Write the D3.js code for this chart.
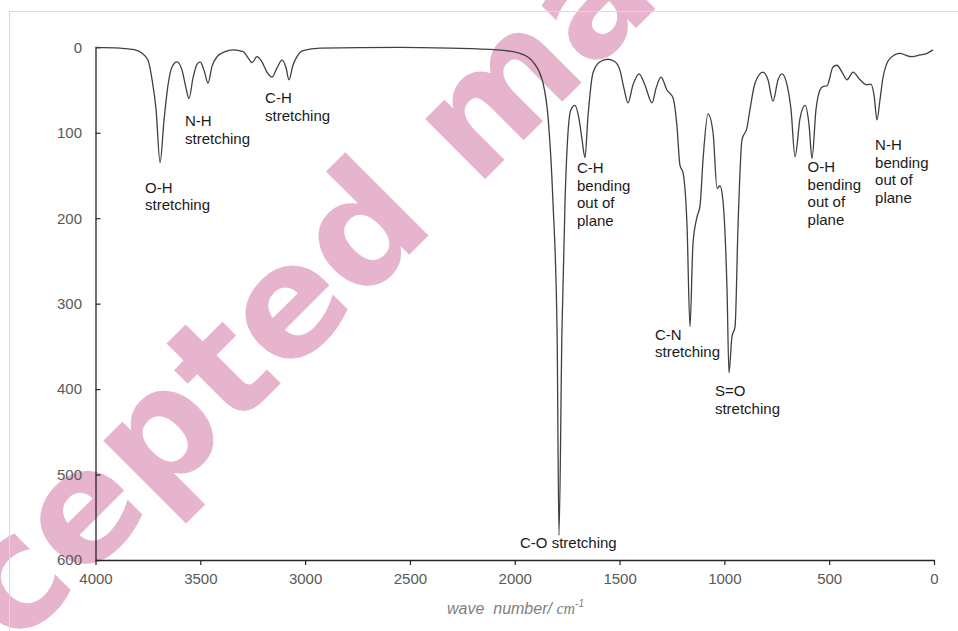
<!DOCTYPE html>
<html>
<head>
<meta charset="utf-8">
<script src="https://cdn.jsdelivr.net/npm/d3@7"></script>
<style>
  html, body { margin: 0; padding: 0; background: #fff; }
  svg { display: block; }
</style>
</head>
<body>
<div id="chart"></div>
<script>
'use strict';

/*** Data */
const waveNumber = [4000,3883,3811,3778,3750,3730,3711,3692,3673,3654,3635,3611,3587,3568,3554,3535,3516,3501,3482,3463,
  3444,3420,3382,3344,3296,3273,3253,3230,3206,3182,3158,3134,3110,3091,3077,3058,3039,3010,2929,2547,
  2309,2085,1975,1913,1865,1841,1818,1798,1789,1775,1760,1746,1732,1713,1694,1679,1665,1651,1627,1593,
  1555,1522,1498,1479,1460,1436,1407,1379,1345,1326,1302,1274,1245,1226,1212,1197,1178,1164,1150,1131,
  1116,1102,1078,1054,1035,1021,1007,987,978,964,949,935,916,892,878,854,816,792,768,744,
  725,701,682,663,639,615,596,582,563,544,530,510,482,463,439,415,386,353,320,301,
  286,272,258,243,210,162,138,105,67,33,5];

const intensity = [0,1,3,7,15,38,73,135,85,44,23,17,27,48,60,36,20,17,27,42,
  22,11,5,3,5,12,18,11,17,29,35,24,15,24,38,21,11,4,1,0,
  1,3,7,17,42,82,179,334,571,334,179,100,73,68,83,108,129,82,30,17,
  14,17,27,48,65,44,31,44,65,48,35,50,59,93,138,147,210,327,231,199,
  185,132,78,100,165,162,179,287,381,339,327,210,108,94,73,42,29,38,63,38,
  31,44,73,128,83,68,91,130,73,50,46,45,23,21,29,38,29,38,44,43,
  56,85,62,35,13,7,9,11,9,7,3];

/* Tick values */
const xTicks = [4000, 3500, 3000, 2500, 2000, 1500, 1000, 500, 0];
const yTicks = [0, 100, 200, 300, 400, 500, 600];

/* Band labels: lines of text, anchored at (wave number, value) */
const bandLabels = [
  { lines: ["O-H", "stretching"], wn: 3764, val: 170 },
  { lines: ["N-H", "stretching"], wn: 3573, val: 92 },
  { lines: ["C-H", "stretching"], wn: 3191, val: 65 },
  { lines: ["C-H", "bending", "out of", "plane"], wn: 1703, val: 147 },
  { lines: ["C-O stretching"], wn: 1975, val: 586 },
  { lines: ["C-N", "stretching"], wn: 1331, val: 342 },
  { lines: ["S=O", "stretching"], wn: 1045, val: 408 },
  { lines: ["O-H", "bending", "out of", "plane"], wn: 603, val: 146 },
  { lines: ["N-H", "bending", "out of", "plane"], wn: 281, val: 120 }
];

const watermarkText = "Accepted manuscript";

/*** Graph dimensions */
const w = 958;
const h = 631;

const svg = d3.select("#chart")
  .append("svg")
  .attr("width", w)
  .attr("height", h);

/** Watermark (under everything) */
svg.append("text")
  .attr("transform", "translate(-135,799) rotate(-45)")
  .attr("font-family", "DejaVu Sans")
  .attr("font-weight", "bold")
  .attr("font-size", 155)
  .attr("fill", "#e6b4cd")
  .text(watermarkText);

/** Chart frame */
svg.append("rect")
  .attr("x", 9.5)
  .attr("y", 11.5)
  .attr("width", 1000)
  .attr("height", 700)
  .attr("fill", "none")
  .attr("stroke", "#d9d9d9");

/** Scales */
const xScale = d3.scaleLinear()
  .domain([4000, 0])
  .range([95.5, 934]);

const yScale = d3.scaleLinear()
  .domain([0, 600])
  .range([47.3, 560]);

/** Axes */
const xAxis = d3.axisBottom(xScale)
  .tickValues(xTicks)
  .tickSizeInner(5)
  .tickSizeOuter(0)
  .tickPadding(8)
  .tickFormat(d3.format("d"));

const yAxis = d3.axisLeft(yScale)
  .tickValues(yTicks)
  .tickSizeInner(-5)
  .tickSizeOuter(0)
  .tickPadding(13.5)
  .tickFormat(d3.format("d"));

const gx = svg.append("g")
  .attr("transform", "translate(0," + yScale(600) + ")")
  .call(xAxis);

const gy = svg.append("g")
  .attr("transform", "translate(" + xScale(4000) + ",0)")
  .call(yAxis);

[gx, gy].forEach(g => {
  g.select(".domain").attr("stroke", "#262626").attr("stroke-width", 1.3);
  g.selectAll(".tick line").attr("stroke", "#262626").attr("stroke-width", 1.2);
  g.selectAll(".tick text")
    .attr("fill", "#595959")
    .attr("font-family", "Liberation Sans, Arial, sans-serif")
    .attr("font-size", 15);
});

/** Axis title */
const title = svg.append("text")
  .attr("x", 447)
  .attr("y", 614)
  .attr("fill", "#7f7f7f")
  .attr("font-family", "Liberation Sans, Arial, sans-serif")
  .attr("font-style", "italic")
  .attr("font-size", 16)
  .attr("xml:space", "preserve");
title.append("tspan").text("wave  number/ ");
title.append("tspan")
  .attr("font-family", "Liberation Serif, serif")
  .attr("font-size", 16)
  .text("cm");
title.append("tspan")
  .attr("font-size", 10)
  .attr("dy", -7)
  .text("-1");

/** Spectrum line */
const points = waveNumber.map((d, i) => [d, intensity[i]]);

const line = d3.line()
  .x(d => xScale(d[0]))
  .y(d => yScale(d[1]))
  .curve(d3.curveMonotoneX);

svg.append("path")
  .datum(points)
  .attr("d", line)
  .attr("fill", "none")
  .attr("stroke", "#404040")
  .attr("stroke-width", 1.3);

/** Band labels */
bandLabels.forEach(lab => {
  const t = svg.append("text")
    .attr("x", xScale(lab.wn))
    .attr("y", yScale(lab.val))
    .attr("fill", "#1a1a1a")
    .attr("font-family", "Liberation Sans, Arial, sans-serif")
    .attr("font-size", 15);
  lab.lines.forEach((s, i) => {
    t.append("tspan")
      .attr("x", xScale(lab.wn))
      .attr("dy", i === 0 ? 0 : 17.7)
      .text(s);
  });
});
</script>
</body>
</html>
